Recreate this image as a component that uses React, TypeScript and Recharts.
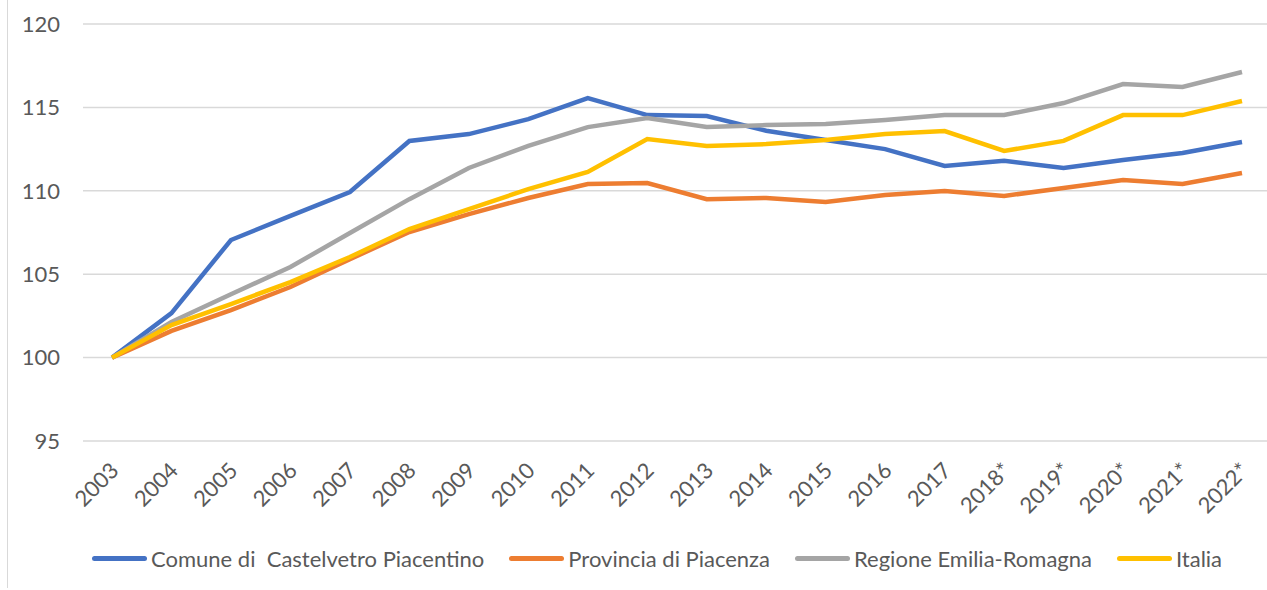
import { LineChart, Line, XAxis, YAxis, CartesianGrid, Legend } from 'recharts';

const years = ['2003', '2004', '2005', '2006', '2007', '2008', '2009', '2010', '2011', '2012', '2013', '2014', '2015', '2016', '2017', '2018*', '2019*', '2020*', '2021*', '2022*'];

const comune = [100, 102.67, 107.05, 108.5, 109.93, 112.99, 113.4, 114.3, 115.56, 114.54, 114.48, 113.6, 113.05, 112.5, 111.49, 111.8, 111.37, 111.85, 112.27, 112.93];
const provincia = [100, 101.6, 102.85, 104.23, 105.9, 107.53, 108.6, 109.57, 110.41, 110.47, 109.5, 109.57, 109.33, 109.75, 109.99, 109.69, 110.17, 110.65, 110.41, 111.07];
const regione = [100, 102.13, 103.8, 105.43, 107.47, 109.5, 111.37, 112.69, 113.82, 114.36, 113.82, 113.94, 114.0, 114.24, 114.54, 114.54, 115.26, 116.4, 116.22, 117.12];
const italia = [100, 101.95, 103.21, 104.53, 106.03, 107.71, 108.9, 110.1, 111.13, 113.1, 112.69, 112.8, 113.05, 113.4, 113.58, 112.39, 112.99, 114.54, 114.54, 115.38];

const yTicks = [95, 100, 105, 110, 115, 120];

const series = [
  { key: 'comune', name: 'Comune di  Castelvetro Piacentino', color: '#4472C4' },
  { key: 'provincia', name: 'Provincia di Piacenza', color: '#ED7D31' },
  { key: 'regione', name: 'Regione Emilia-Romagna', color: '#A5A5A5' },
  { key: 'italia', name: 'Italia', color: '#FFC000' },
];

const data = years.map((y, i) => ({
  year: y,
  comune: comune[i],
  provincia: provincia[i],
  regione: regione[i],
  italia: italia[i],
}));

const FONT = 'Lato, "Noto Sans", sans-serif';
const TEXT = '#595959';

const XTick = ({ x, y, payload }: any) => (
  <g transform={`translate(${x + 8},${y + 31}) rotate(-45)`}>
    <text x={0} y={0} textAnchor="end" fill={TEXT} fontSize={22} fontFamily={FONT}>
      {payload.value}
    </text>
  </g>
);

// legenda come in Excel: campione di linea + etichetta
const LegendBox = () => (
  <div style={{ display: 'flex', alignItems: 'center', height: 40, paddingLeft: 92, fontFamily: FONT, fontSize: 22, color: TEXT }}>
    {series.map((s) => (
      <div key={s.key} style={{ display: 'flex', alignItems: 'center', marginRight: 25 }}>
        <span style={{ display: 'inline-block', width: 55, height: 5, borderRadius: 3, background: s.color, marginRight: 4 }} />
        <span style={{ whiteSpace: 'pre' }}>{s.name}</span>
      </div>
    ))}
  </div>
);

export default function App() {
  return (
    <div style={{ position: 'fixed', left: 0, top: 0, width: 1267, height: 590, background: '#fff' }}>
      <div style={{ position: 'absolute', left: 7, top: 0, width: 1, height: 588, background: '#D9D9D9' }} />
      <LineChart width={1267} height={590} data={data} margin={{ top: 24, right: 0, left: 0, bottom: 12 }}>
        <CartesianGrid vertical={false} stroke="#D9D9D9" strokeWidth={1.5} />
        <XAxis
          dataKey="year"
          axisLine={false}
          tickLine={false}
          tickSize={0}
          tickMargin={0}
          height={97}
          interval={0}
          padding={{ left: 29, right: 25 }}
          tick={<XTick />}
        />
        <YAxis
          domain={[95, 120]}
          ticks={yTicks}
          axisLine={false}
          tickLine={false}
          tickSize={0}
          tickMargin={23}
          width={83}
          tick={{ fill: TEXT, fontSize: 22, fontFamily: FONT }}
        />
        <Legend verticalAlign="bottom" content={<LegendBox />} />
        {series.map((s) => (
          <Line
            key={s.key}
            type="linear"
            dataKey={s.key}
            name={s.name}
            stroke={s.color}
            strokeWidth={4.5}
            dot={false}
            isAnimationActive={false}
          />
        ))}
      </LineChart>
    </div>
  );
}
